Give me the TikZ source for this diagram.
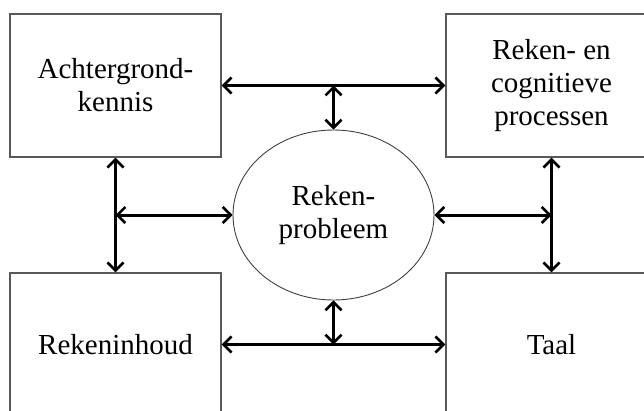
\documentclass[tikz,border=0pt]{standalone}
\usepackage{fontspec}
\setmainfont{Liberation Serif}
\usetikzlibrary{arrows.meta,shapes.geometric}
\begin{document}
\begin{tikzpicture}[x=1pt,y=-1pt,
  box/.style={draw=black!65,line width=1.4pt,minimum width=211pt,minimum height=143pt,inner sep=0pt,
    align=center,font=\fontsize{29}{33}\selectfont},
  ell/.style={ellipse,draw=black!75,line width=0.9pt,minimum width=201pt,minimum height=170pt,inner sep=0pt,
    align=center,font=\fontsize{29}{33}\selectfont},
  link/.style={line width=3pt,{Straight Barb[length=8pt,width=16pt,line width=2.6pt]}-{Straight Barb[length=8pt,width=16pt,line width=2.6pt]}}]
\useasboundingbox (0,0) rectangle (644,410);
\clip (0,0) rectangle (644,410);
\node[box] (tl) at (115.5,85.5) {Achtergrond-\\kennis};
\node[box] (tr) at (551.5,85.5) {Reken- en\\cognitieve\\processen};
\node[box] (bl) at (115.5,344.5) {Rekeninhoud};
\node[box] (br) at (551.5,344.5) {Taal};
\node[ell] (pr) at (333.5,215) {Reken-\\probleem};
\draw[link] (tl.east) -- (tr.west);
\draw[link] (bl.east) -- (br.west);
\draw[link] (tl.south) -- (bl.north);
\draw[link] (tr.south) -- (br.north);
\draw[link] (tl.east -| pr.north) -- (pr.north);
\draw[link] (bl.east -| pr.south) -- (pr.south);
\draw[link] (tl.south |- pr.west) -- (pr.west);
\draw[link] (tr.south |- pr.east) -- (pr.east);
\end{tikzpicture}
\end{document}
